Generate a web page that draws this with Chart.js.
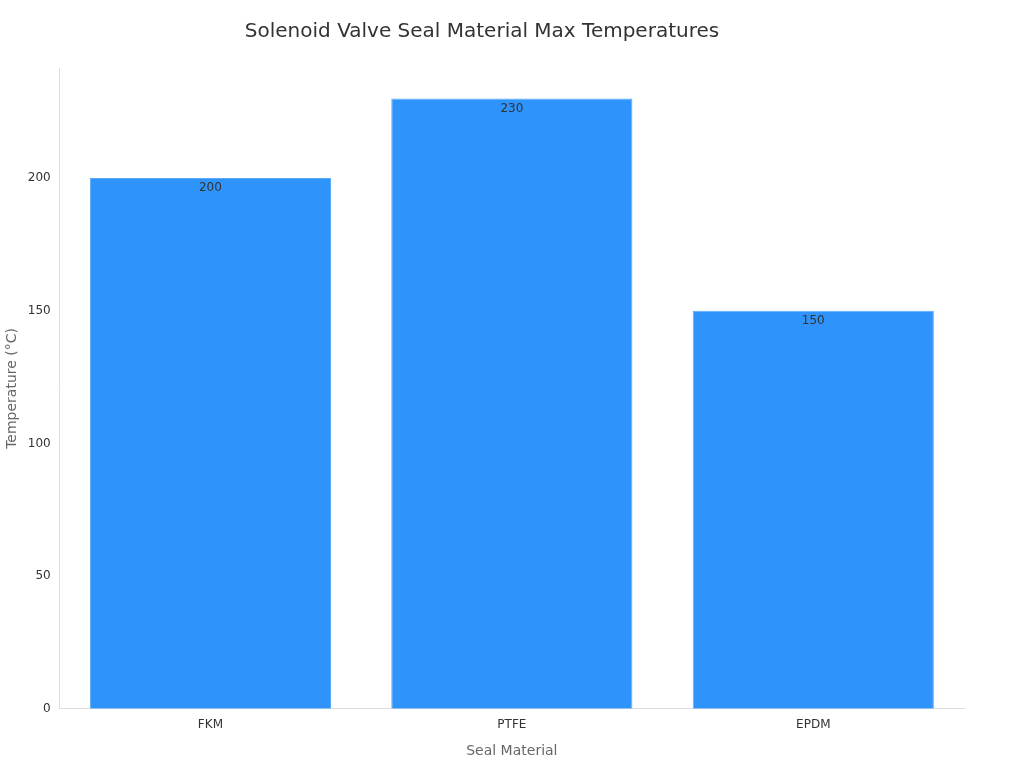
<!DOCTYPE html>
<html><head><meta charset="utf-8">
<script src="https://cdn.jsdelivr.net/npm/chart.js@4/dist/chart.umd.min.js"></script>
<style>html,body{margin:0;padding:0;background:#fff}#w{width:1024px;height:768px}</style>
</head><body><div id="w"><canvas id="c" width="1024" height="768"></canvas></div>
<script>
const categories = ["FKM", "PTFE", "EPDM"];
const temperatures = [200, 230, 150];
const yTickValues = [0, 50, 100, 150, 200];

const labelPlugin = {
  id: 'lbl',
  afterDatasetsDraw(chart) {
    const ctx = chart.ctx;
    const meta = chart.getDatasetMeta(0);
    ctx.save();
    ctx.font = '12px "DejaVu Sans", sans-serif';
    ctx.fillStyle = '#333';
    ctx.textAlign = 'center';
    ctx.textBaseline = 'middle';
    meta.data.forEach((b, i) => ctx.fillText(String(temperatures[i]), b.x, b.y + 10));
    ctx.restore();
  }
};

new Chart(document.getElementById('c'), {
  type: 'bar',
  data: { labels: categories, datasets: [{ data: temperatures, backgroundColor: '#2e93fa', borderColor: '#5aaaf8', borderWidth: 1, barPercentage: 0.8, categoryPercentage: 1 }] },
  options: {
    responsive: false, animation: false,
    layout: { padding: { left: 0, right: 60, top: 10, bottom: 4 } },
    plugins: {
      legend: { display: false }, tooltip: { enabled: false },
      title: { display: true, text: 'Solenoid Valve Seal Material Max Temperatures', color: '#333', font: { family: '"DejaVu Sans", sans-serif', size: 20, weight: 'normal' }, padding: { top: 10, bottom: 24 } }
    },
    scales: {
      x: {
        grid: { display: false, drawTicks: true, tickLength: 6 },
        border: { color: '#ddd' },
        ticks: { color: '#333', font: { family: '"DejaVu Sans", sans-serif', size: 12 } },
        title: { display: true, text: 'Seal Material', color: '#666', font: { family: '"DejaVu Sans", sans-serif', size: 14 }, padding: { top: 8 } }
      },
      y: {
        min: 0, max: 241.5,
        afterBuildTicks(s) { s.ticks = yTickValues.map(v => ({ value: v })); },
        grid: { display: false, drawTicks: true, tickLength: 6 },
        border: { color: '#ddd' },
        ticks: { color: '#333', font: { family: '"DejaVu Sans", sans-serif', size: 12 } },
        title: { display: true, text: 'Temperature (°C)', color: '#666', font: { family: '"DejaVu Sans", sans-serif', size: 14 } }
      }
    }
  },
  plugins: [labelPlugin]
});
</script></body></html>
